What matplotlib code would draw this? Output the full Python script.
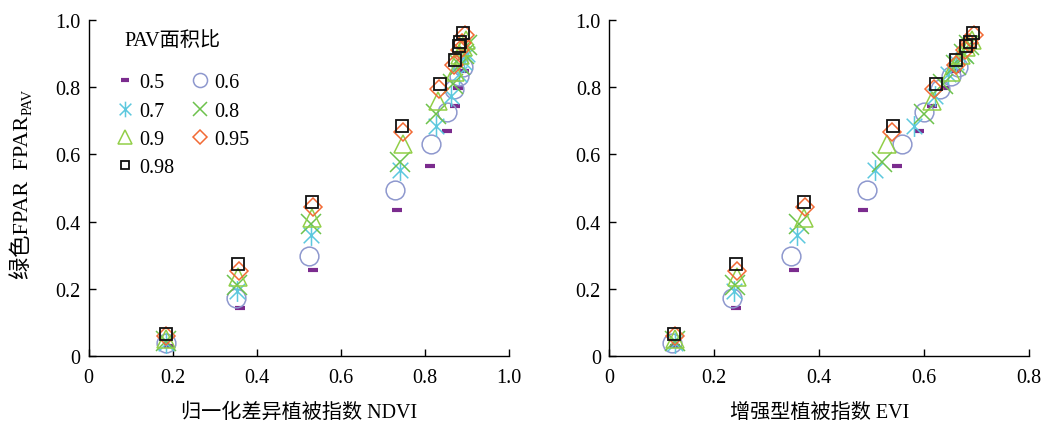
import matplotlib
matplotlib.use("Agg")
import matplotlib.pyplot as plt
from matplotlib.path import Path
from matplotlib.ticker import FuncFormatter, MultipleLocator

plt.rcParams['font.family'] = ['Liberation Serif', 'Noto Sans CJK SC', 'DejaVu Sans']

# ---------------- data ----------------
pav_labels = ["0.5", "0.6", "0.7", "0.8", "0.9", "0.95", "0.98"]

ndvi_05 = [0.19, 0.361, 0.533, 0.733, 0.812, 0.852, 0.871, 0.879, 0.894]
ndvi_06 = [0.183, 0.351, 0.524, 0.728, 0.814, 0.852, 0.870, 0.882, 0.890]
ndvi_07 = [0.185, 0.354, 0.529, 0.741, 0.826, 0.862, 0.882, 0.893, 0.900]
ndvi_08 = [0.185, 0.354, 0.529, 0.741, 0.827, 0.867, 0.883, 0.893, 0.900]
ndvi_09 = [0.185, 0.355, 0.532, 0.748, 0.831, 0.871, 0.884, 0.891, 0.898]
ndvi_095 = [0.185, 0.358, 0.533, 0.748, 0.834, 0.870, 0.883, 0.889, 0.895]
ndvi_098 = [0.184, 0.355, 0.532, 0.747, 0.836, 0.872, 0.882, 0.884, 0.890]

evi_05 = [0.126, 0.241, 0.351, 0.483, 0.548, 0.589, 0.615, 0.640, 0.660]
evi_06 = [0.120, 0.234, 0.347, 0.491, 0.558, 0.600, 0.630, 0.650, 0.665]
evi_07 = [0.125, 0.238, 0.357, 0.507, 0.580, 0.620, 0.645, 0.660, 0.675]
evi_08 = [0.125, 0.240, 0.362, 0.519, 0.599, 0.635, 0.660, 0.675, 0.685]
evi_09 = [0.125, 0.243, 0.370, 0.529, 0.615, 0.650, 0.670, 0.680, 0.690]
evi_095 = [0.125, 0.243, 0.372, 0.538, 0.618, 0.660, 0.678, 0.685, 0.695]
evi_098 = [0.124, 0.241, 0.370, 0.540, 0.623, 0.661, 0.680, 0.687, 0.693]

fpar_05 = [0.030, 0.143, 0.257, 0.435, 0.566, 0.668, 0.745, 0.798, 0.849]
fpar_06 = [0.040, 0.173, 0.298, 0.495, 0.631, 0.725, 0.795, 0.834, 0.860]
fpar_07 = [0.040, 0.194, 0.360, 0.552, 0.685, 0.773, 0.839, 0.875, 0.900]
fpar_08 = [0.045, 0.210, 0.393, 0.576, 0.720, 0.810, 0.865, 0.900, 0.925]
fpar_09 = [0.050, 0.234, 0.410, 0.631, 0.760, 0.845, 0.895, 0.920, 0.940]
fpar_095 = [0.060, 0.254, 0.443, 0.667, 0.795, 0.865, 0.910, 0.930, 0.955]
fpar_098 = [0.065, 0.275, 0.459, 0.685, 0.810, 0.881, 0.923, 0.935, 0.961]

ndvi_all = [ndvi_05, ndvi_06, ndvi_07, ndvi_08, ndvi_09, ndvi_095, ndvi_098]
evi_all = [evi_05, evi_06, evi_07, evi_08, evi_09, evi_095, evi_098]
fpar_all = [fpar_05, fpar_06, fpar_07, fpar_08, fpar_09, fpar_095, fpar_098]

# ---------------- styles ----------------
asterisk = Path([(0, -1), (0, 1), (-0.75, -0.75), (0.75, 0.75), (-0.75, 0.75), (0.75, -0.75)],
                [Path.MOVETO, Path.LINETO, Path.MOVETO, Path.LINETO, Path.MOVETO, Path.LINETO])

styles = [
    dict(marker='_', color='#7B2C8E', ms=7.5, mew=3.0),
    dict(marker='o', color='#8E98CE', ms=13.5, mew=1.1),
    dict(marker=asterisk, color='#5CC8DE', ms=15, mew=1.1),
    dict(marker='x', color='#6DC24C', ms=14, mew=1.1),
    dict(marker='^', color='#92CF48', ms=13, mew=1.1),
    dict(marker='D', color='#F26A35', ms=9.5, mew=1.1),
    dict(marker='s', color='#111111', ms=8.5, mew=1.3),
]

FS = 14.5
FS_Y = 16

fig = plt.figure(figsize=(10.44, 4.27), dpi=100)
ax1 = fig.add_axes([0.085, 0.164, 0.4023, 0.787])
ax2 = fig.add_axes([0.5836, 0.164, 0.4023, 0.787])

fmt = FuncFormatter(lambda v, p: "0" if abs(v) < 1e-9 else f"{v:.1f}")

handles = []
for i, st in enumerate(styles):
    kw = dict(linestyle='none', marker=st['marker'], markersize=st['ms'],
              markeredgewidth=st['mew'], markerfacecolor='none',
              markeredgecolor=st['color'], color=st['color'])
    h, = ax1.plot(ndvi_all[i], fpar_all[i], label=pav_labels[i], **kw)
    ax2.plot(evi_all[i], fpar_all[i], **kw)
    handles.append(h)

for ax, xmax in ((ax1, 1.0), (ax2, 0.8)):
    ax.set_xlim(0, xmax)
    ax.set_ylim(0, 1.0)
    ax.xaxis.set_major_locator(MultipleLocator(0.2))
    ax.yaxis.set_major_locator(MultipleLocator(0.2))
    ax.xaxis.set_major_formatter(fmt)
    ax.yaxis.set_major_formatter(fmt)
    ax.spines['top'].set_visible(False)
    ax.spines['right'].set_visible(False)
    for s in ('left', 'bottom'):
        ax.spines[s].set_linewidth(1.0)
        ax.spines[s].set_color('black')
    ax.tick_params(direction='in', length=5, width=1.0, labelsize=FS)
    ax.tick_params(axis='x', pad=9)
    ax.tick_params(axis='y', pad=6)

ax1.set_xlabel("归一化差异植被指数 NDVI", fontsize=FS, labelpad=11)
ax2.set_xlabel("增强型植被指数 EVI", fontsize=FS, labelpad=11)

# y label with subscript drawn as separate small text
ylab = fig.text(0.022, 0.538, "绿色FPAR  FPAR", rotation=90, fontsize=FS_Y,
                ha='center', va='center')
ax1.annotate("PAV", xy=(1.0, 1.0), xycoords=ylab, xytext=(-1.5, 0.5),
             textcoords='offset points', rotation=90, rotation_mode='anchor',
             ha='left', va='baseline', fontsize=FS_Y * 0.66, annotation_clip=False)

# legend (row-major order in 2 columns)
order = [0, 2, 4, 6, 1, 3, 5]
ax1.text(0.085, 0.94, "PAV面积比", transform=ax1.transAxes, fontsize=FS,
         ha='left', va='center')
ax1.legend([handles[k] for k in order], [pav_labels[k] for k in order],
           ncol=2, loc='upper left', bbox_to_anchor=(0.031, 0.877),
           frameon=False, fontsize=FS, handlelength=1.1, handletextpad=0.15,
           columnspacing=0.75, labelspacing=0.45, markerscale=0.75,
           borderaxespad=0.2)

fig.savefig("out.png", dpi=100)
